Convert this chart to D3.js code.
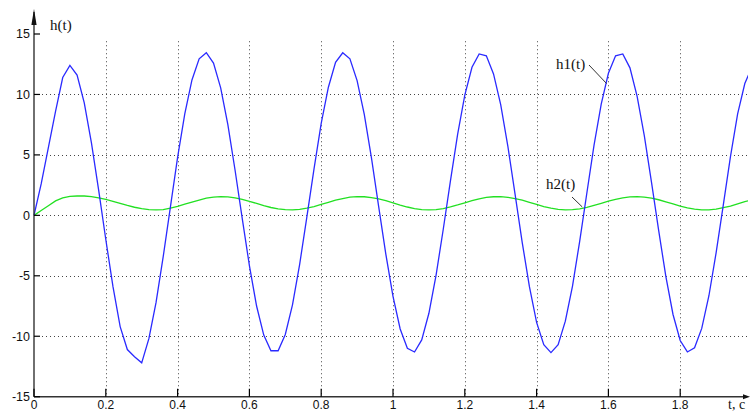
<!DOCTYPE html>
<html>
<head>
<meta charset="utf-8">
<script src="https://cdn.jsdelivr.net/npm/d3@7"></script>
<style>
  html, body { margin: 0; padding: 0; background: #fff; }
  svg { display: block; }
</style>
</head>
<body>
<svg id="chart" width="750" height="412"></svg>
<script>
// ---- data ----
const tStep = 0.02;
const tValues = d3.range(0, 101).map(i => +(i * tStep).toFixed(2));
const h1 = [0, 2.6, 5.6, 8.6, 11.4, 12.4, 11.6, 9.3, 6.0, 2.1,
  -2.0, -5.9, -9.2, -11.1, -11.7, -12.2, -10.2, -7.2, -3.4, 0.7,
  4.8, 8.4, 11.2, 12.95, 13.45, 12.6, 10.55, 7.5, 3.75, -0.25,
  -4.15, -7.5, -9.9, -11.2, -11.2, -9.85, -7.4, -4.05, -0.15, 3.85,
  7.6, 10.6, 12.65, 13.45, 12.95, 11.15, 8.35, 4.75, 0.75, -3.2,
  -6.7, -9.4, -11.0, -11.3, -10.3, -8.1, -4.95, -1.15, 2.85, 6.7,
  9.95, 12.25, 13.35, 13.2, 11.7, 9.15, 5.7, 1.75, -2.25, -5.9,
  -8.85, -10.7, -11.35, -10.7, -8.75, -5.85, -2.15, 1.85, 5.8, 9.2,
  11.75, 13.2, 13.35, 12.2, 9.85, 6.6, 2.75, -1.25, -5.05, -8.2,
  -10.35, -11.3, -10.95, -9.35, -6.65, -3.1, 0.85, 4.85, 8.4, 10.9,
  12.3];
const h2 = [0, 0.4, 0.8, 1.2, 1.45, 1.57, 1.6, 1.6, 1.55, 1.45,
  1.32, 1.16, 0.99, 0.82, 0.67, 0.55, 0.47, 0.45, 0.47, 0.6,
  0.75, 0.92, 1.1, 1.26, 1.42, 1.51, 1.55, 1.53, 1.45, 1.32,
  1.16, 0.99, 0.81, 0.65, 0.54, 0.47, 0.45, 0.5, 0.59, 0.73,
  0.9, 1.08, 1.25, 1.39, 1.5, 1.55, 1.54, 1.47, 1.36, 1.21,
  1.03, 0.85, 0.69, 0.56, 0.48, 0.45, 0.48, 0.56, 0.7, 0.86,
  1.04, 1.21, 1.36, 1.48, 1.54, 1.55, 1.49, 1.39, 1.25, 1.08,
  0.9, 0.73, 0.59, 0.49, 0.45, 0.47, 0.54, 0.66, 0.82, 0.99,
  1.17, 1.33, 1.45, 1.53, 1.55, 1.51, 1.42, 1.29, 1.12, 0.94,
  0.77, 0.62, 0.51, 0.46, 0.46, 0.52, 0.63, 0.77, 0.95, 1.13,
  1.29];
const xTicks = [0, 0.2, 0.4, 0.6, 0.8, 1, 1.2, 1.4, 1.6, 1.8];
const yTicks = [-15, -10, -5, 0, 5, 10, 15];
const xGrid = [0.2, 0.4, 0.6, 0.8, 1, 1.2, 1.4, 1.6, 1.8];
const yGrid = [-10, -5, 0, 5, 10];
const labels = { y: "h(t)", x: "t, c", s1: "h1(t)", s2: "h2(t)" };

// ---- scales ----
const svg = d3.select("#chart");
const x = d3.scaleLinear().domain([0, 2]).range([34, 752]);
const y = d3.scaleLinear().domain([-15, 15]).range([396.7, 34]);
const axisColor = "#333";
const sans = "'Liberation Sans', Arial, sans-serif";
const serif = "'Liberation Serif', 'Times New Roman', serif";

// grid
const grid = svg.append("g").attr("stroke", "#444").attr("stroke-width", 1)
  .attr("stroke-dasharray", "1,3");
grid.selectAll("line.v").data(xGrid).join("line").attr("class", "v")
  .attr("x1", d => Math.round(x(d)) + 0.5).attr("x2", d => Math.round(x(d)) + 0.5)
  .attr("y1", y(14.4)).attr("y2", y(-15));
grid.selectAll("line.h").data(yGrid).join("line").attr("class", "h")
  .attr("x1", x(0) + 8).attr("x2", 748)
  .attr("y1", d => Math.round(y(d)) + 0.5).attr("y2", d => Math.round(y(d)) + 0.5);

// series
const data = tValues.map((t, i) => ({ t, a: h1[i], b: h2[i] }));
svg.append("clipPath").attr("id", "plotclip").append("rect")
  .attr("x", 0).attr("y", 0).attr("width", 748).attr("height", 412);
const series = svg.append("g").attr("clip-path", "url(#plotclip)");
series.append("path").datum(data)
  .attr("fill", "none").attr("stroke", "#22e022").attr("stroke-width", 1.3)
  .attr("d", d3.line().x(d => x(d.t)).y(d => y(d.b)));
series.append("path").datum(data)
  .attr("fill", "none").attr("stroke", "#2a2aff").attr("stroke-width", 1.3)
  .attr("d", d3.line().x(d => x(d.t)).y(d => y(d.a)));

// axes
const ax = svg.append("g");
ax.append("line").attr("x1", x(0)).attr("x2", x(0)).attr("y1", y(-15)).attr("y2", 12)
  .attr("stroke", axisColor).attr("stroke-width", 1.4);
ax.append("path").attr("d", `M${x(0)},9 L${x(0) - 2.6},25 L${x(0) + 2.6},25 Z`)
  .attr("fill", "#111");
ax.append("line").attr("x1", x(0)).attr("x2", 746).attr("y1", y(-15)).attr("y2", y(-15))
  .attr("stroke", axisColor).attr("stroke-width", 1.4);
ax.append("path").attr("d", `M750,${y(-15)} L743,${y(-15) - 2.5} L743,${y(-15) + 2.5} Z`)
  .attr("fill", "#111");

// y ticks + labels
ax.selectAll("line.yt").data(yTicks).join("line").attr("class", "yt")
  .attr("x1", x(0)).attr("x2", x(0) + 6)
  .attr("y1", d => y(d)).attr("y2", d => y(d))
  .attr("stroke", "#000").attr("stroke-width", 1.2);
ax.selectAll("text.yl").data(yTicks).join("text").attr("class", "yl")
  .attr("x", 30).attr("y", d => y(d) + 4.3)
  .attr("text-anchor", "end").attr("font-family", sans).attr("font-size", 12.5)
  .attr("fill", "#111").text(d => d);

// x ticks + labels
ax.selectAll("line.xt").data(xTicks).join("line").attr("class", "xt")
  .attr("x1", d => x(d)).attr("x2", d => x(d))
  .attr("y1", y(-15)).attr("y2", y(-15) - 8)
  .attr("stroke", "#000").attr("stroke-width", 1.2);
ax.selectAll("text.xl").data(xTicks).join("text").attr("class", "xl")
  .attr("x", d => x(d)).attr("y", 409)
  .attr("text-anchor", "middle").attr("font-family", sans).attr("font-size", 12)
  .attr("fill", "#111").text(d => d);

// axis titles
svg.append("text").attr("x", 50).attr("y", 30).attr("font-family", serif)
  .attr("font-size", 15).attr("fill", "#111").text(labels.y);
svg.append("text").attr("x", 728).attr("y", 409).attr("font-family", serif)
  .attr("font-size", 14).attr("fill", "#111").text(labels.x);

// series annotations
const ann = svg.append("g");
ann.append("line").attr("x1", 589).attr("y1", 65).attr("x2", x(1.595)).attr("y2", y(10.9))
  .attr("stroke", "#333").attr("stroke-width", 1);
ann.append("text").attr("x", 556).attr("y", 69).attr("font-family", serif)
  .attr("font-size", 15).attr("fill", "#111").text(labels.s1);
ann.append("line").attr("x1", 572).attr("y1", 197).attr("x2", x(1.527)).attr("y2", y(0.7))
  .attr("stroke", "#333").attr("stroke-width", 1);
ann.append("text").attr("x", 546).attr("y", 189).attr("font-family", serif)
  .attr("font-size", 15).attr("fill", "#111").text(labels.s2);
</script>
</body>
</html>
